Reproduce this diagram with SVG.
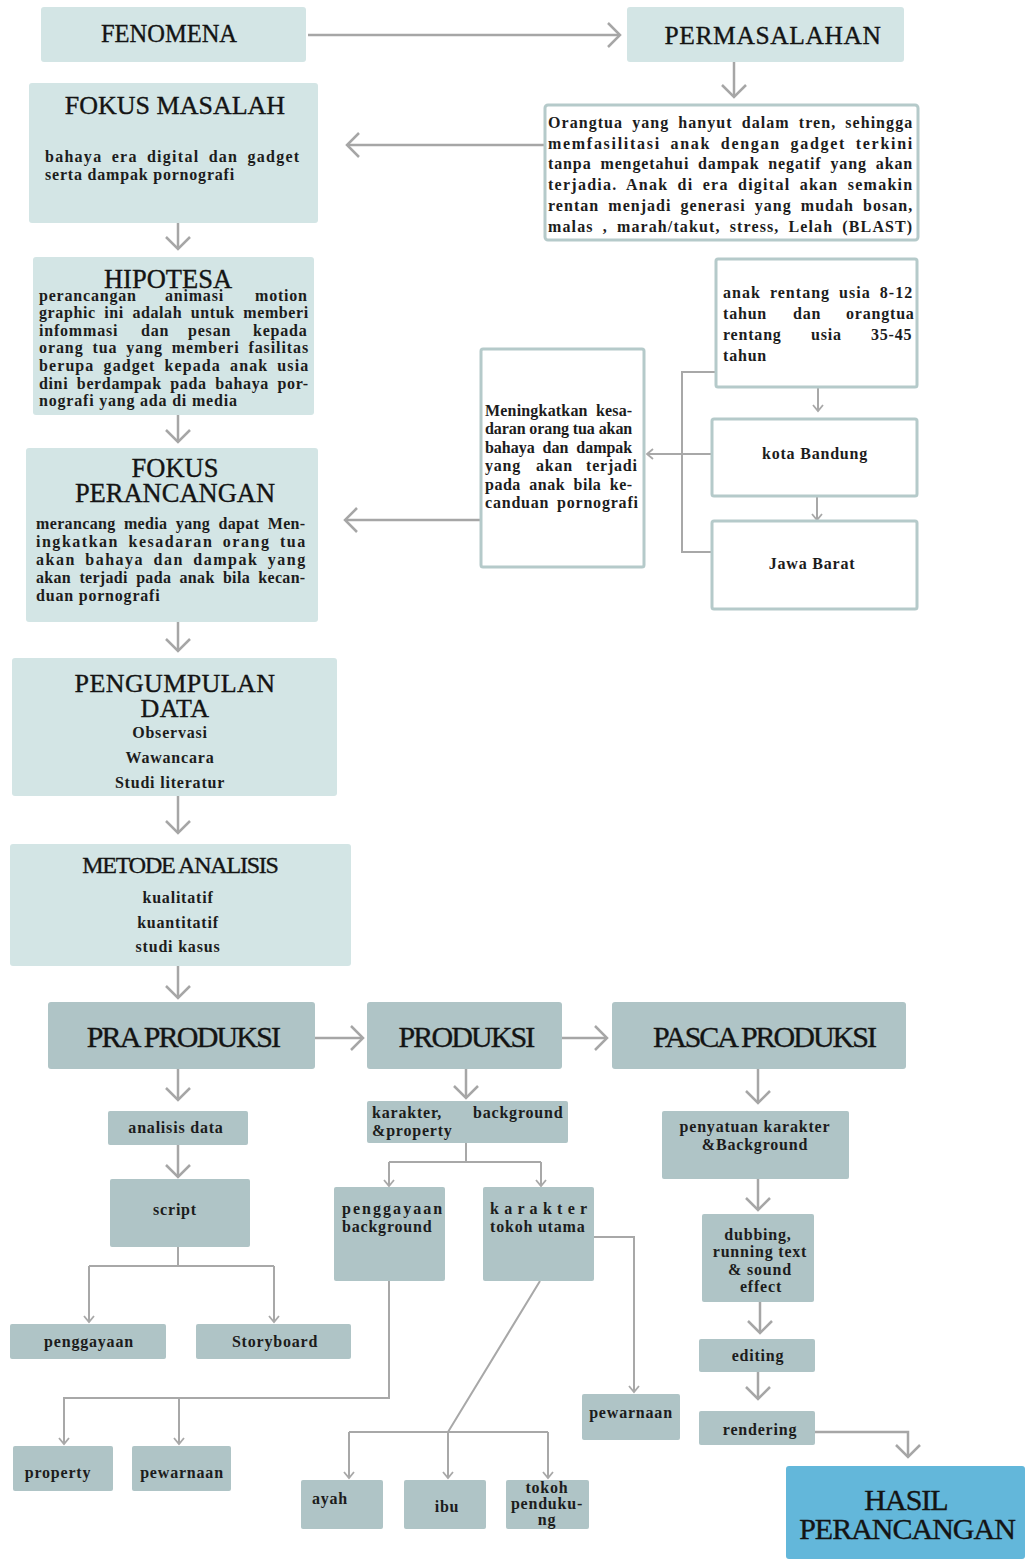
<svg xmlns="http://www.w3.org/2000/svg" width="1025" height="1559" viewBox="0 0 1025 1559">
<defs>
<style>
.lb{fill:#d3e5e5}
.db{fill:#afc4c6}
.wb{fill:#ffffff;stroke:#b5caca;stroke-width:3}
.hs{fill:#63b7da}
.tt{font-family:"Liberation Serif","Times New Roman",serif;fill:#141414;stroke:#141414;stroke-width:0.35;text-anchor:middle}
.bd{font-family:"Liberation Serif","Times New Roman",serif;font-weight:bold;font-size:16px;letter-spacing:0.8px;fill:#1c1c1c}
.j{word-spacing:4px}
.m{text-anchor:middle}
.cn{fill:none;stroke:#a6a6a6;stroke-width:2.5}
.cs{fill:none;stroke:#a8a8a8;stroke-width:2}
</style>
<marker id="big" viewBox="0 0 16 28" markerWidth="16" markerHeight="28" refX="14" refY="14" orient="auto" markerUnits="userSpaceOnUse"><path d="M2,2 L14,14 L2,26" fill="none" stroke="#a6a6a6" stroke-width="2.5"/></marker>
<marker id="sm" viewBox="0 0 10 12" markerWidth="10" markerHeight="12" refX="8" refY="6" orient="auto" markerUnits="userSpaceOnUse"><path d="M2,1 L8,6 L2,11" fill="none" stroke="#a8a8a8" stroke-width="1.8"/></marker>
</defs>
<rect x="0" y="0" width="1025" height="1559" fill="#ffffff"/>

<g id="connectors">
<path class="cn" marker-end="url(#big)" d="M308,35 H620"/>
<path class="cn" marker-end="url(#big)" d="M734,62 V97"/>
<path class="cn" marker-end="url(#big)" d="M544,145 H347"/>
<path class="cn" marker-end="url(#big)" d="M178,223 V249"/>
<path class="cn" marker-end="url(#big)" d="M178,415 V442"/>
<path class="cn" marker-end="url(#big)" d="M481,520 H345"/>
<path class="cn" marker-end="url(#big)" d="M178,622 V651"/>
<path class="cn" marker-end="url(#big)" d="M178,796 V833"/>
<path class="cn" marker-end="url(#big)" d="M178,966 V998"/>
<path class="cn" marker-end="url(#big)" d="M315,1038 H363"/>
<path class="cn" marker-end="url(#big)" d="M562,1038 H607"/>
<path class="cn" marker-end="url(#big)" d="M178,1069 V1100"/>
<path class="cn" marker-end="url(#big)" d="M178,1145 V1177"/>
<path class="cn" marker-end="url(#big)" d="M466,1069 V1098"/>
<path class="cn" marker-end="url(#big)" d="M758,1069 V1103"/>
<path class="cn" marker-end="url(#big)" d="M758,1179 V1210"/>
<path class="cn" marker-end="url(#big)" d="M760,1302 V1333"/>
<path class="cn" marker-end="url(#big)" d="M758,1372 V1399"/>
<path class="cn" marker-end="url(#big)" d="M815,1432 H908 V1457"/>

<path class="cs" d="M717,372 H682 V552 H712"/>
<path class="cs" marker-end="url(#sm)" d="M712,454 H647"/>
<path class="cs" marker-end="url(#sm)" d="M818,388 V411"/>
<path class="cs" marker-end="url(#sm)" d="M817,497 V520"/>

<path class="cs" d="M178,1247 V1266 M89,1266 H274"/>
<path class="cs" marker-end="url(#sm)" d="M89,1266 V1322"/>
<path class="cs" marker-end="url(#sm)" d="M274,1266 V1322"/>

<path class="cs" d="M466,1143 V1162 M389,1162 H541"/>
<path class="cs" marker-end="url(#sm)" d="M389,1162 V1186"/>
<path class="cs" marker-end="url(#sm)" d="M541,1162 V1186"/>

<path class="cs" marker-end="url(#sm)" d="M594,1237 H634 V1392"/>

<path class="cs" marker-end="url(#sm)" d="M389,1281 V1398 H64 V1444"/>
<path class="cs" marker-end="url(#sm)" d="M179,1398 V1444"/>

<path class="cs" d="M540,1281 L448,1432 M349,1432 H548"/>
<path class="cs" marker-end="url(#sm)" d="M349,1432 V1478"/>
<path class="cs" marker-end="url(#sm)" d="M448,1432 V1478"/>
<path class="cs" marker-end="url(#sm)" d="M548,1432 V1478"/>
</g>

<g id="fenomena">
<rect class="lb" x="41" y="7" width="265" height="55" rx="3"/>
<text class="tt" x="169" y="42" font-size="24.5">FENOMENA</text>
</g>

<g id="permasalahan">
<rect class="lb" x="627" y="7" width="277" height="55" rx="3"/>
<text class="tt" x="773" y="44" font-size="25.5" letter-spacing="0.6">PERMASALAHAN</text>
</g>

<g id="orangtua">
<rect class="wb" x="545" y="105" width="373" height="135" rx="3"/>
<text class="bd j" font-size="16.5" x="548" y="128" textLength="365" lengthAdjust="spacing">Orangtua yang hanyut dalam tren, sehingga</text>
<text class="bd j" font-size="16.5" x="548" y="149" textLength="365" lengthAdjust="spacing">memfasilitasi anak dengan gadget terkini</text>
<text class="bd j" font-size="16.5" x="548" y="169" textLength="365" lengthAdjust="spacing">tanpa mengetahui dampak negatif yang akan</text>
<text class="bd j" font-size="16.5" x="548" y="190" textLength="365" lengthAdjust="spacing">terjadia. Anak di era digital akan semakin</text>
<text class="bd j" font-size="16.5" x="548" y="211" textLength="365" lengthAdjust="spacing">rentan menjadi generasi yang mudah bosan,</text>
<text class="bd j" font-size="16.5" x="548" y="232" textLength="365" lengthAdjust="spacing">malas , marah/takut, stress, Lelah (BLAST)</text>
</g>

<g id="fokus-masalah">
<rect class="lb" x="29" y="83" width="289" height="140" rx="3"/>
<text class="tt" x="175" y="114" font-size="26">FOKUS MASALAH</text>
<text class="bd j" x="45" y="162" textLength="255" lengthAdjust="spacing">bahaya era digital dan gadget</text>
<text class="bd" x="45" y="180">serta dampak pornografi</text>
</g>

<g id="hipotesa">
<rect class="lb" x="33" y="257" width="281" height="158" rx="3"/>
<text class="tt" x="168" y="288" font-size="26.5">HIPOTESA</text>
<text class="bd" y="301"><tspan x="39">perancangan</tspan><tspan x="165">animasi</tspan><tspan x="255">motion</tspan></text>
<text class="bd j" x="39" y="318" textLength="270" lengthAdjust="spacing">graphic ini adalah untuk memberi</text>
<text class="bd" y="336"><tspan x="39">infommasi</tspan><tspan x="141">dan</tspan><tspan x="188">pesan</tspan><tspan x="253">kepada</tspan></text>
<text class="bd j" x="39" y="353" textLength="270" lengthAdjust="spacing">orang tua yang memberi fasilitas</text>
<text class="bd j" x="39" y="371" textLength="270" lengthAdjust="spacing">berupa gadget kepada anak  usia</text>
<text class="bd j" x="39" y="389" textLength="270" lengthAdjust="spacing">dini berdampak pada bahaya por-</text>
<text class="bd" x="39" y="406">nografi yang ada di media</text>
</g>

<g id="fokus-perancangan">
<rect class="lb" x="26" y="448" width="292" height="174" rx="3"/>
<text class="tt" x="175" y="477" font-size="26.5">FOKUS</text>
<text class="tt" x="175" y="502" font-size="26.5">PERANCANGAN</text>
<text class="bd j" x="36" y="529" textLength="270" lengthAdjust="spacing">merancang media yang dapat Men-</text>
<text class="bd j" x="36" y="547" textLength="270" lengthAdjust="spacing">ingkatkan kesadaran orang tua</text>
<text class="bd j" x="36" y="565" textLength="270" lengthAdjust="spacing">akan bahaya dan dampak yang</text>
<text class="bd j" x="36" y="583" textLength="270" lengthAdjust="spacing">akan terjadi pada anak bila kecan-</text>
<text class="bd" x="36" y="601">duan pornografi</text>
</g>

<g id="target-usia">
<rect class="wb" x="716" y="259" width="201" height="128" rx="2"/>
<text class="bd j" x="723" y="298" textLength="190" lengthAdjust="spacing">anak rentang usia 8-12</text>
<text class="bd" y="319"><tspan x="723">tahun</tspan><tspan x="793">dan</tspan><tspan x="846">orangtua</tspan></text>
<text class="bd" y="340"><tspan x="723">rentang</tspan><tspan x="811">usia</tspan><tspan x="871">35-45</tspan></text>
<text class="bd" x="723" y="361">tahun</text>
</g>

<g id="kota-bandung">
<rect class="wb" x="712" y="419" width="205" height="77" rx="2"/>
<text class="bd m" x="815" y="459">kota Bandung</text>
</g>

<g id="jawa-barat">
<rect class="wb" x="712" y="521" width="205" height="88" rx="2"/>
<text class="bd m" x="812" y="569">Jawa Barat</text>
</g>

<g id="meningkatkan">
<rect class="wb" x="481" y="349" width="163" height="218" rx="2"/>
<text class="bd j" font-size="14.5" x="485" y="416" textLength="148" lengthAdjust="spacing">Meningkatkan kesa-</text>
<text class="bd" font-size="14.5" x="485" y="434" textLength="148" lengthAdjust="spacing">daran orang tua akan</text>
<text class="bd j" font-size="14.5" x="485" y="453" textLength="148" lengthAdjust="spacing">bahaya dan dampak</text>
<text class="bd" font-size="14.5" y="471"><tspan x="485">yang</tspan><tspan x="536">akan</tspan><tspan x="586">terjadi</tspan></text>
<text class="bd j" font-size="14.5" x="485" y="490" textLength="148" lengthAdjust="spacing">pada anak bila ke-</text>
<text class="bd" font-size="14.5" y="508"><tspan x="485">canduan</tspan><tspan x="557">pornografi</tspan></text>
</g>

<g id="pengumpulan-data">
<rect class="lb" x="12" y="658" width="325" height="138" rx="3"/>
<text class="tt" x="175" y="692" font-size="26" letter-spacing="0.4">PENGUMPULAN</text>
<text class="tt" x="175" y="717" font-size="26" letter-spacing="0.4">DATA</text>
<text class="bd m" x="170" y="738">Observasi</text>
<text class="bd m" x="170" y="763">Wawancara</text>
<text class="bd m" x="170" y="788">Studi literatur</text>
</g>

<g id="metode-analisis">
<rect class="lb" x="10" y="844" width="341" height="122" rx="3"/>
<text class="tt" x="180" y="873" font-size="24" letter-spacing="-1.2">METODE ANALISIS</text>
<text class="bd m" x="178" y="903">kualitatif</text>
<text class="bd m" x="178" y="928">kuantitatif</text>
<text class="bd m" x="178" y="952">studi kasus</text>
</g>

<g id="pra-produksi">
<rect class="db" x="48" y="1002" width="267" height="67" rx="3"/>
<text class="tt" x="183" y="1047" font-size="30" letter-spacing="-1.8">PRA PRODUKSI</text>
</g>

<g id="produksi">
<rect class="db" x="367" y="1002" width="195" height="67" rx="3"/>
<text class="tt" x="466" y="1047" font-size="30" letter-spacing="-1.9">PRODUKSI</text>
</g>

<g id="pasca-produksi">
<rect class="db" x="612" y="1002" width="294" height="67" rx="3"/>
<text class="tt" x="764" y="1047" font-size="30" letter-spacing="-2">PASCA PRODUKSI</text>
</g>

<g id="analisis-data">
<rect class="db" x="108" y="1111" width="140" height="34" rx="2"/>
<text class="bd m" x="176" y="1133">analisis data</text>
</g>

<g id="script">
<rect class="db" x="110" y="1179" width="140" height="68" rx="2"/>
<text class="bd m" x="175" y="1215">script</text>
</g>

<g id="penggayaan">
<rect class="db" x="10" y="1324" width="156" height="35" rx="2"/>
<text class="bd m" x="89" y="1347">penggayaan</text>
</g>

<g id="storyboard">
<rect class="db" x="196" y="1324" width="155" height="35" rx="2"/>
<text class="bd m" x="275" y="1347">Storyboard</text>
</g>

<g id="karakter-background">
<rect class="db" x="367" y="1101" width="201" height="42" rx="2"/>
<text class="bd" y="1118"><tspan x="372">karakter,</tspan><tspan x="473">background</tspan></text>
<text class="bd" x="372" y="1136">&amp;property</text>
</g>

<g id="penggayaan-background">
<rect class="db" x="334" y="1187" width="111" height="94" rx="2"/>
<text class="bd" x="342" y="1214" textLength="101" lengthAdjust="spacing">penggayaan</text>
<text class="bd" x="342" y="1232">background</text>
</g>

<g id="karakter-tokoh-utama">
<rect class="db" x="483" y="1187" width="111" height="94" rx="2"/>
<text class="bd" x="490" y="1214" textLength="98" lengthAdjust="spacing">k a r a k t e r</text>
<text class="bd" x="490" y="1232">tokoh utama</text>
</g>

<g id="pewarnaan-karakter">
<rect class="db" x="582" y="1394" width="98" height="46" rx="2"/>
<text class="bd m" x="631" y="1418">pewarnaan</text>
</g>

<g id="property">
<rect class="db" x="13" y="1446" width="100" height="45" rx="2"/>
<text class="bd m" x="58" y="1478" font-size="17" letter-spacing="0">property</text>
</g>

<g id="pewarnaan-background">
<rect class="db" x="132" y="1446" width="99" height="45" rx="2"/>
<text class="bd m" x="182" y="1478" font-size="17" letter-spacing="0">pewarnaan</text>
</g>

<g id="ayah">
<rect class="db" x="301" y="1480" width="82" height="49" rx="2"/>
<text class="bd m" x="330" y="1504" font-size="17" letter-spacing="0">ayah</text>
</g>

<g id="ibu">
<rect class="db" x="404" y="1480" width="82" height="49" rx="2"/>
<text class="bd m" x="447" y="1512" font-size="17" letter-spacing="0">ibu</text>
</g>

<g id="tokoh-pendukung">
<rect class="db" x="506" y="1480" width="83" height="49" rx="2"/>
<text class="bd m" font-size="13.5" x="547" y="1493" letter-spacing="0.3">tokoh</text>
<text class="bd m" font-size="13.5" x="547" y="1509" letter-spacing="0.6">penduku-</text>
<text class="bd m" font-size="13.5" x="547" y="1525" letter-spacing="0.3">ng</text>
</g>

<g id="penyatuan">
<rect class="db" x="662" y="1111" width="187" height="68" rx="2"/>
<text class="bd m" x="755" y="1132">penyatuan karakter</text>
<text class="bd m" x="755" y="1150">&amp;Background</text>
</g>

<g id="dubbing">
<rect class="db" x="702" y="1214" width="112" height="88" rx="2"/>
<text class="bd m" x="758" y="1240">dubbing,</text>
<text class="bd m" x="760" y="1257">running text</text>
<text class="bd m" x="760" y="1275">&amp; sound</text>
<text class="bd m" x="761" y="1292">effect</text>
</g>

<g id="editing">
<rect class="db" x="699" y="1339" width="116" height="33" rx="2"/>
<text class="bd m" x="758" y="1361">editing</text>
</g>

<g id="rendering">
<rect class="db" x="699" y="1411" width="116" height="34" rx="2"/>
<text class="bd m" x="760" y="1435">rendering</text>
</g>

<g id="hasil-perancangan">
<rect class="hs" x="786" y="1466" width="239" height="93" rx="3"/>
<text class="tt" x="906" y="1510" font-size="30" letter-spacing="-1">HASIL</text>
<text class="tt" x="907" y="1539" font-size="30" letter-spacing="-1">PERANCANGAN</text>
</g>
</svg>
